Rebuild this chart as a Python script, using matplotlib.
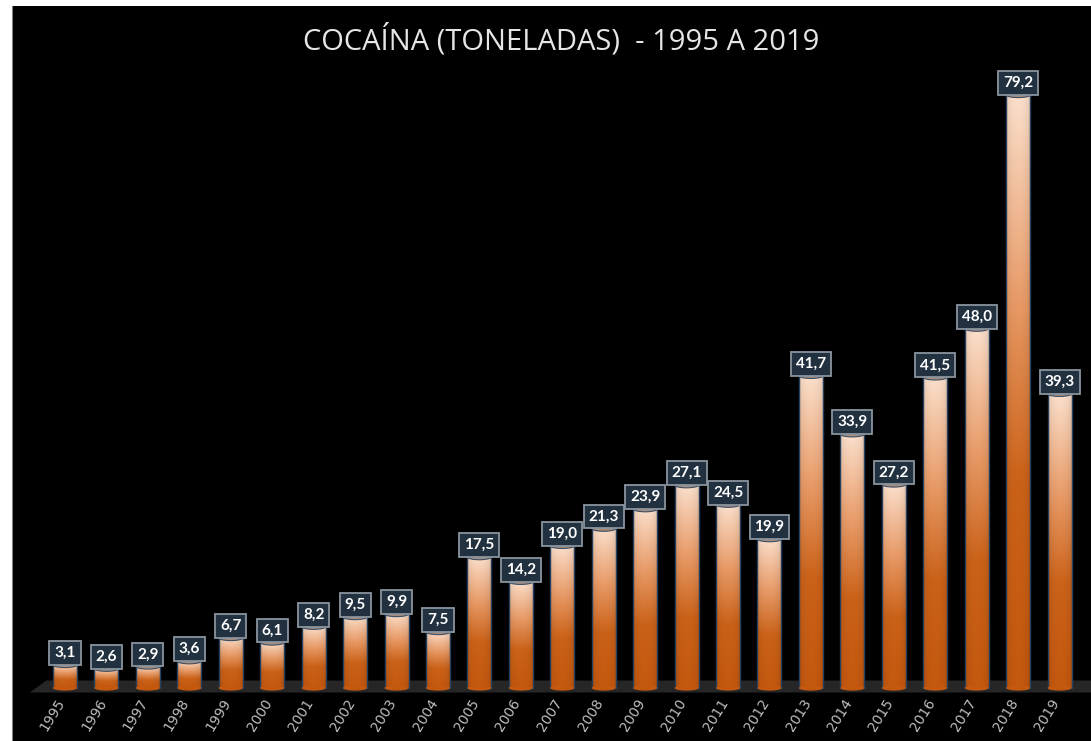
import numpy as np
import matplotlib
matplotlib.use("Agg")
import matplotlib.pyplot as plt
from matplotlib.colors import LinearSegmentedColormap
from matplotlib.patches import Ellipse, Polygon

years = ["1995", "1996", "1997", "1998", "1999", "2000", "2001", "2002", "2003", "2004",
         "2005", "2006", "2007", "2008", "2009", "2010", "2011", "2012", "2013", "2014",
         "2015", "2016", "2017", "2018", "2019"]
values = [3.1, 2.6, 2.9, 3.6, 6.7, 6.1, 8.2, 9.5, 9.9, 7.5,
          17.5, 14.2, 19.0, 21.3, 23.9, 27.1, 24.5, 19.9, 41.7, 33.9,
          27.2, 41.5, 48.0, 79.2, 39.3]
title = "COCAÍNA (TONELADAS)  - 1995 A 2019"

W, H = 1091, 741
fig = plt.figure(figsize=(W / 100, H / 100), dpi=100, facecolor="white")

# black chart area
bg = fig.add_axes([12 / W, 0, 1 - 12 / W, 1 - 6 / H])
bg.set_facecolor("black")
bg.set_xticks([]); bg.set_yticks([])
for s in bg.spines.values():
    s.set_visible(False)
bg.spines["left"].set_visible(True)
bg.spines["left"].set_color("#808080")

ax = fig.add_axes([12 / W, 0, 1 - 12 / W, 1 - 6 / H])
ax.set_facecolor("none")
ax.set_axis_off()

px_per_x = 41.44
x0_px = 65
px_per_y = 7.49
y0_px = 688
ax.set_xlim((12 - x0_px) / px_per_x, (W - x0_px) / px_per_x)
ax.set_ylim(-(H - y0_px) / px_per_y, (y0_px - 6) / px_per_y)

n = len(values)
x = np.arange(n)
bw = 24 / px_per_x

# floor
floor = Polygon([(-0.85, -0.6), (n - 0.1, -0.6), (n + 0.35, 1.0), (-0.45, 1.0)],
                closed=True, facecolor="#262626", edgecolor="none", zorder=1)
ax.add_patch(floor)

cmap = LinearSegmentedColormap.from_list(
    "cyl", [(0.0, "#c4580f"), (0.35, "#cb6219"), (0.65, "#e89a66"), (1.0, "#fbdfcb")])

bars = ax.bar(x, values, width=bw, color="none", edgecolor="#24405e", linewidth=1.0, zorder=3)

# horizontal shading for cylinder look
hx = np.linspace(-1, 1, 60)
shade = 0.86 + 0.14 * np.sqrt(1 - hx ** 2)
for xi, v, b in zip(x, values, bars):
    t = np.linspace(0, 1, 200)[:, None]
    rgb = cmap(t)[:, :, :3] * np.ones((1, 60, 1))
    rgb = rgb * shade[None, :, None]
    im = ax.imshow(rgb, origin="lower", extent=(xi - bw / 2, xi + bw / 2, 0, v),
                   aspect="auto", zorder=2, interpolation="bilinear")
    im.set_clip_path(b)
    # bottom cap
    ax.add_patch(Ellipse((xi, 0), bw, 0.7, facecolor="#c4580f", edgecolor="none",
                         zorder=3.5))
    # top cap
    ax.add_patch(Ellipse((xi, v), bw, 0.75, facecolor="#a88b78", edgecolor="#3a5068",
                         linewidth=0.8, zorder=4))
    ax.annotate(f"{v:.1f}".replace(".", ","), xy=(xi, v), xytext=(0, 3.5),
                textcoords="offset points", ha="center", va="bottom",
                fontsize=11, fontweight="bold", color="white", family="Lato",
                bbox=dict(boxstyle="square,pad=0.32", facecolor="#22313f",
                          edgecolor="#8a949e", linewidth=1.3), zorder=5)

# year labels
for xi, yr in zip(x, years):
    ax.text(xi - 0.3, -(715 - y0_px) / px_per_y, yr, rotation=58, ha="center", va="center",
            fontsize=10, color="#bdbdbd", family="DejaVu Sans", zorder=5)

fig.text(561 / W, 1 - 40 / H, title, ha="center", va="center", fontsize=21,
         color="#e6e6e6", family="Open Sans")

fig.savefig("out.png", dpi=100, facecolor="white")
